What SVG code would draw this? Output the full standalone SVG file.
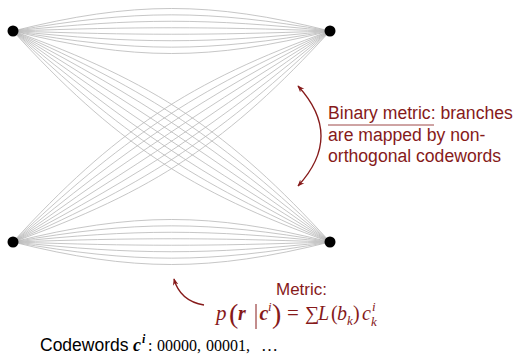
<svg xmlns="http://www.w3.org/2000/svg" width="519" height="359" viewBox="0 0 519 359">
<defs>
<style>
.e{fill:none;stroke:#b8b8b8;stroke-width:0.8}
.n{fill:#000}
.a{fill:none;stroke:#861a1a;stroke-width:1.3}
.lbl{font-family:"Liberation Sans",Arial,sans-serif;fill:#861a1a}
.m{font-family:"Liberation Serif","Times New Roman",serif;font-style:italic;fill:#861a1a}
.mb{font-family:"Liberation Serif","Times New Roman",serif;font-style:italic;font-weight:bold;fill:#861a1a}
.mr{font-family:"Liberation Serif","Times New Roman",serif;fill:#861a1a}
.k{font-family:"Liberation Serif","Times New Roman",serif;fill:#000}
</style>
<marker id="ah" viewBox="0 0 10 10" refX="9" refY="5" markerWidth="7" markerHeight="7" orient="auto-start-reverse" markerUnits="userSpaceOnUse">
<path d="M0,1 L10,5 L0,9 L3,5 Z" fill="#861a1a"/>
</marker>
</defs>
<g id="connectors">
<path class="e" d="M13 31C133.4 0.98 209.6 0.98 330 31"/>
<path class="e" d="M13 31C135.2 9.45 207.8 9.45 330 31"/>
<path class="e" d="M13 31C136.4 18.03 206.6 18.03 330 31"/>
<path class="e" d="M13 31C137 26.67 206 26.67 330 31"/>
<path class="e" d="M13 31C137 35.33 206 35.33 330 31"/>
<path class="e" d="M13 31C136.4 43.97 206.6 43.97 330 31"/>
<path class="e" d="M13 31C135.2 52.55 207.8 52.55 330 31"/>
<path class="e" d="M13 31C133.4 61.02 209.6 61.02 330 31"/>
<path class="e" d="M13 242C133.4 211.98 209.6 211.98 330 242"/>
<path class="e" d="M13 242C135.2 220.45 207.8 220.45 330 242"/>
<path class="e" d="M13 242C136.4 229.03 206.6 229.03 330 242"/>
<path class="e" d="M13 242C137 237.67 206 237.67 330 242"/>
<path class="e" d="M13 242C137 246.33 206 246.33 330 242"/>
<path class="e" d="M13 242C136.4 254.97 206.6 254.97 330 242"/>
<path class="e" d="M13 242C135.2 263.55 207.8 263.55 330 242"/>
<path class="e" d="M13 242C133.4 272.02 209.6 272.02 330 242"/>
<path class="e" d="M13 31C134.12 117.89 203.12 163.77 330 242"/>
<path class="e" d="M13 31C139.88 109.23 208.88 155.11 330 242"/>
<path class="e" d="M13 31C127.86 126.15 197.86 172.81 330 242"/>
<path class="e" d="M13 31C145.14 100.19 215.14 146.85 330 242"/>
<path class="e" d="M13 31C120.85 133.89 193.45 182.21 330 242"/>
<path class="e" d="M13 31C149.55 90.79 222.15 139.11 330 242"/>
<path class="e" d="M13 31C113.51 141.21 189.51 191.85 330 242"/>
<path class="e" d="M13 31C153.49 81.15 229.49 131.79 330 242"/>
<path class="e" d="M13 242C139.88 163.77 208.88 117.89 330 31"/>
<path class="e" d="M13 242C134.12 155.11 203.12 109.23 330 31"/>
<path class="e" d="M13 242C145.14 172.81 215.14 126.15 330 31"/>
<path class="e" d="M13 242C127.86 146.85 197.86 100.19 330 31"/>
<path class="e" d="M13 242C149.55 182.21 222.15 133.89 330 31"/>
<path class="e" d="M13 242C120.85 139.11 193.45 90.79 330 31"/>
<path class="e" d="M13 242C153.49 191.85 229.49 141.21 330 31"/>
<path class="e" d="M13 242C113.51 131.79 189.51 81.15 330 31"/>
</g>
<g id="node-tl"><circle class="n" cx="13" cy="31" r="5.5"/></g>
<g id="node-tr"><circle class="n" cx="330" cy="31" r="5.5"/></g>
<g id="node-bl"><circle class="n" cx="13" cy="242" r="5.5"/></g>
<g id="node-br"><circle class="n" cx="330" cy="242" r="5.5"/></g>
<g id="binary-note">
<path class="a" d="M298,86 Q344,136 298,186" marker-start="url(#ah)" marker-end="url(#ah)"/>
<text class="lbl" font-size="17.6" x="328" y="119">Binary metric: branches</text>
<line x1="328" y1="125" x2="434" y2="125" stroke="#861a1a" stroke-width="0.8"/>
<text class="lbl" font-size="17.6" x="328" y="141">are mapped by non-</text>
<text class="lbl" font-size="17.6" x="328" y="162">orthogonal codewords</text>
</g>
<g id="metric-note">
<path class="a" d="M204,305 Q180,301 174,279" marker-end="url(#ah)"/>
<text class="lbl" font-size="17" x="276" y="295">Metric:</text>
<text class="m" font-size="21" x="216" y="320">p</text>
<text class="mr" font-size="28" x="229" y="323">(</text>
<text class="mb" font-size="20" x="238" y="320">r</text>
<line x1="256" y1="304" x2="256" y2="329" stroke="#861a1a" stroke-width="1"/>
<text class="mb" font-size="20" x="259.5" y="320">c</text>
<text class="m" font-size="13" x="268" y="311">i</text>
<text class="mr" font-size="28" x="272" y="323">)</text>
<text class="mr" font-size="21" x="287" y="320">=</text>
<text class="mr" font-size="20" x="305" y="320">∑</text>
<text class="m" font-size="20" x="318" y="320">L</text>
<text class="mr" font-size="20" x="331" y="320">(</text>
<text class="m" font-size="20" x="337" y="320">b</text>
<text class="m" font-size="13" x="347" y="325">k</text>
<text class="mr" font-size="20" x="353" y="320">)</text>
<text class="m" font-size="20" x="362" y="320">c</text>
<text class="m" font-size="13" x="372" y="311">i</text>
<text class="m" font-size="13" x="371" y="326">k</text>
</g>
<g id="codewords">
<text font-family="Liberation Sans, Arial, sans-serif" font-size="17.5" x="40" y="351" fill="#000">Codewords</text>
<text class="k" font-size="18" font-style="italic" font-weight="bold" x="133" y="351">c</text>
<text class="k" font-size="12" font-style="italic" font-weight="bold" x="142" y="343">i</text>
<text class="k" font-size="16" x="148" y="351">:</text>
<text class="k" font-size="16" x="157" y="351">00000,</text>
<text class="k" font-size="16" x="206" y="351">00001,</text>
<text class="k" font-size="17" x="261" y="351">…</text>
</g>
</svg>
